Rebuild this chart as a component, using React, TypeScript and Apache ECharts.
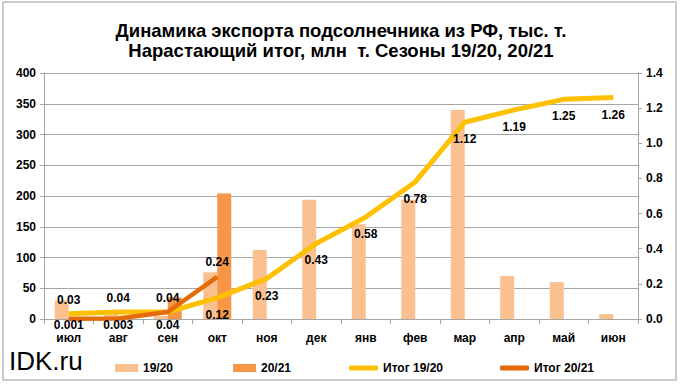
import React, { useEffect, useRef } from "react";
import * as echarts from "echarts";

const categories = ["июл", "авг", "сен", "окт", "ноя", "дек", "янв", "фев", "мар", "апр", "май", "июн"];
const exports1920 = [30, 10, 5, 76, 112, 194, 154, 194, 340, 70, 60, 8];
const exports2021: (number | null)[] = [1, 2, 35, 204, null, null, null, null, null, null, null, null];
const total1920 = [0.03, 0.04, 0.04, 0.12, 0.23, 0.43, 0.58, 0.78, 1.12, 1.19, 1.25, 1.26];
const total2021: (number | null)[] = [0.001, 0.003, 0.04, 0.24, null, null, null, null, null, null, null, null];
const leftTicks = { min: 0, max: 400, interval: 50 };
const rightTicks = { min: 0, max: 1.4, interval: 0.2 };

const FONT = "Liberation Sans, Arial, sans-serif";
const C_LIGHT = "#FAC090";
const C_DARK = "#F79646";
const C_YELLOW = "#FFC000";
const C_DLINE = "#E46C0A";
const C_GRID = "#A6A6A6";

export default function App() {
  const ref = useRef<HTMLDivElement>(null);
  useEffect(() => {
    if (!ref.current) return;
    const chart = echarts.init(ref.current, null, { renderer: "svg" });

    const lbl = (v: number, top: boolean, distance: number) => ({
      show: true,
      position: top ? "top" : "bottom",
      distance,
      formatter: String(v),
      color: "#000",
      fontFamily: FONT,
      fontSize: 12,
      fontWeight: "bold",
    });

    const d1920 = total1920.map((v, i) => ({
      value: v,
      label: i < 3 ? lbl(v, true, 7.5) : lbl(v, false, 10.5),
    }));
    const d2021 = total2021.map((v, i) => {
      if (v === null) return { value: null };
      if (i === 3) return { value: v, label: lbl(v, true, 8.5) };
      return { value: v, label: lbl(v, false, i === 2 ? 7 : 0) };
    });

    const legendBase = (left: number, name: string, line: boolean) => ({
      left,
      top: 357,
      itemWidth: line ? 29 : 23,
      itemHeight: line ? 5 : 8,
      icon: line ? "roundRect" : "rect",
      textStyle: { fontFamily: FONT, fontSize: 12, fontWeight: "bold", color: "#000" },
      data: [name],
      selectedMode: false,
    });

    const axisLabel = { color: "#000", fontFamily: FONT, fontSize: 12, fontWeight: "bold" };

    chart.setOption({
      animation: false,
      backgroundColor: "#fff",
      title: {
        text: "Динамика экспорта подсолнечника из РФ, тыс. т.\nНарастающий итог, млн  т. Сезоны 19/20, 20/21",
        left: "center",
        top: 15,
        textStyle: { fontFamily: FONT, fontSize: 18.5, fontWeight: "bold", color: "#000", lineHeight: 20 },
      },
      graphic: [
        {
          type: "rect",
          shape: { x: 3, y: 2, width: 673, height: 378 },
          style: { fill: "none", stroke: "#BBBBBB", lineWidth: 1.5 },
          silent: true,
        },
        {
          type: "text",
          left: 9,
          top: 347.5,
          style: { text: "IDK.ru", fontFamily: FONT, fontSize: 26, lineHeight: 20, fill: "#000" },
        },
      ],
      legend: [
        legendBase(110, "19/20", false),
        legendBase(228, "20/21", false),
        legendBase(344, "Итог 19/20", true),
        legendBase(495, "Итог 20/21", true),
      ],
      grid: { left: 44, right: 44, top: 73, bottom: 70 },
      xAxis: {
        type: "category",
        data: categories,
        boundaryGap: true,
        axisLine: { lineStyle: { color: C_GRID } },
        axisTick: { show: true, interval: 0, length: 5, lineStyle: { color: C_GRID } },
        axisLabel: { ...axisLabel, margin: 13, interval: 0 },
      },
      yAxis: [
        {
          type: "value",
          ...leftTicks,
          axisLine: { show: true, lineStyle: { color: C_GRID } },
          axisTick: { show: true, length: 4, lineStyle: { color: C_GRID } },
          splitLine: { show: true, lineStyle: { color: C_GRID } },
          axisLabel: { ...axisLabel, margin: 8 },
        },
        {
          type: "value",
          ...rightTicks,
          position: "right",
          axisLine: { show: true, lineStyle: { color: C_GRID } },
          axisTick: { show: true, length: 4, lineStyle: { color: C_GRID } },
          splitLine: { show: false },
          axisLabel: { ...axisLabel, margin: 8, formatter: (v: number) => v.toFixed(1) },
        },
      ],
      series: [
        {
          name: "19/20",
          type: "bar",
          data: exports1920,
          barWidth: 14,
          barGap: "0%",
          itemStyle: { color: C_LIGHT },
        },
        {
          name: "20/21",
          type: "bar",
          data: exports2021,
          barWidth: 14,
          barGap: "0%",
          itemStyle: { color: C_DARK },
        },
        {
          name: "Итог 19/20",
          type: "line",
          yAxisIndex: 1,
          data: d1920,
          symbol: "circle",
          symbolSize: 1,
          lineStyle: { color: C_YELLOW, width: 5 },
          itemStyle: { color: C_YELLOW },
          z: 3,
        },
        {
          name: "Итог 20/21",
          type: "line",
          yAxisIndex: 1,
          data: d2021,
          symbol: "circle",
          symbolSize: 1,
          lineStyle: { color: C_DLINE, width: 4.5 },
          itemStyle: { color: C_DLINE },
          z: 4,
        },
      ],
    });
    return () => chart.dispose();
  }, []);
  return <div ref={ref} style={{ position: "fixed", left: 0, top: 0, width: 682, height: 389 }} />;
}
